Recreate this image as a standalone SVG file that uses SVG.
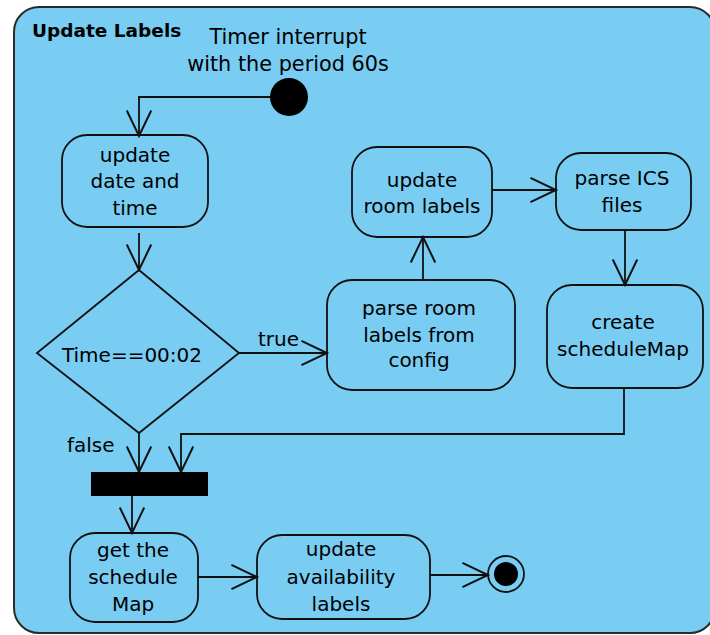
<svg xmlns="http://www.w3.org/2000/svg" width="710" height="635" viewBox="0 0 710 635">
  <defs>
    <marker id="open" markerUnits="userSpaceOnUse" markerWidth="30" markerHeight="30" viewBox="-25 -13 27 26" refX="0" refY="0" orient="auto" overflow="visible">
      <path d="M -23 -11 L 0 0 L -23 11" fill="none" stroke="#111" stroke-width="1.8"/>
    </marker>
  </defs>
  <style>
    .frame { fill: #79cdf3; stroke: #2a2a2a; stroke-width: 2; }
    .action { fill: none; stroke: #111; stroke-width: 1.8; }
    .edge { fill: none; stroke: #111; stroke-width: 1.8; marker-end: url(#open); }
    text { font-family: "DejaVu Sans", "Liberation Sans", sans-serif; font-size: 20px; fill: #000; }
    .c { text-anchor: middle; }
    .note { font-size: 20.8px; }
    .title { font-weight: bold; font-size: 18.5px; }
  </style>

  <rect width="710" height="635" fill="#ffffff"/>

  <!-- activity frame -->
  <g id="frame">
    <rect class="frame" x="14" y="7" width="701" height="626" rx="25" ry="25"/>
    <text class="title" x="32" y="37">Update Labels</text>
  </g>

  <!-- initial node with its note -->
  <g id="start">
    <text class="c note" x="288" y="44">Timer interrupt</text>
    <text class="c note" x="288" y="71">with the period 60s</text>
    <circle cx="289" cy="97" r="19" fill="#000"/>
  </g>

  <g id="update-date-time">
    <rect class="action" x="62" y="135" width="146" height="92" rx="25"/>
    <text class="c" x="135" y="162">update</text>
    <text class="c" x="135" y="188">date and</text>
    <text class="c" x="135" y="215">time</text>
  </g>

  <g id="decision">
    <polygon class="action" points="139,270 239,353 139,433 37,353"/>
    <text class="c" x="132" y="362">Time==00:02</text>
  </g>

  <g id="parse-room-labels">
    <rect class="action" x="327" y="280" width="188" height="110" rx="25"/>
    <text class="c" x="419" y="315">parse room</text>
    <text class="c" x="419" y="342">labels from</text>
    <text class="c" x="419" y="367">config</text>
  </g>

  <g id="update-room-labels">
    <rect class="action" x="352" y="147" width="140" height="90" rx="25"/>
    <text class="c" x="422" y="187">update</text>
    <text class="c" x="422" y="213">room labels</text>
  </g>

  <g id="parse-ics">
    <rect class="action" x="556" y="153" width="135" height="77" rx="25"/>
    <text class="c" x="622" y="185">parse ICS</text>
    <text class="c" x="622" y="212">files</text>
  </g>

  <g id="create-schedule-map">
    <rect class="action" x="547" y="285" width="156" height="103" rx="25"/>
    <text class="c" x="623" y="329">create</text>
    <text class="c" x="623" y="356">scheduleMap</text>
  </g>

  <g id="join">
    <rect x="91" y="472" width="117" height="24" fill="#000"/>
  </g>

  <g id="get-schedule-map">
    <rect class="action" x="70" y="533" width="128" height="89" rx="25"/>
    <text class="c" x="133" y="557">get the</text>
    <text class="c" x="133" y="584">schedule</text>
    <text class="c" x="133" y="611">Map</text>
  </g>

  <g id="update-availability">
    <rect class="action" x="257" y="535" width="173" height="84" rx="25"/>
    <text class="c" x="341" y="556">update</text>
    <text class="c" x="341" y="584">availability</text>
    <text class="c" x="341" y="611">labels</text>
  </g>

  <g id="end">
    <circle cx="506" cy="574" r="18" fill="none" stroke="#111" stroke-width="1.8"/>
    <circle cx="506" cy="574" r="12" fill="#000"/>
  </g>

  <!-- control flows -->
  <g id="connectors">
    <path class="edge" d="M 270 97 H 139 V 136"/>
    <path class="edge" d="M 139 233 V 270"/>
    <path class="edge" d="M 239 353 H 327"/>
    <path class="edge" d="M 423 280 V 237"/>
    <path class="edge" d="M 492 190 H 556"/>
    <path class="edge" d="M 625 230 V 285"/>
    <path class="edge" d="M 624 388 V 434 H 181 V 472"/>
    <path class="edge" d="M 139 433 V 472"/>
    <path class="edge" d="M 132 496 V 533"/>
    <path class="edge" d="M 198 577 H 257"/>
    <path class="edge" d="M 430 575 H 488"/>
    <text x="258" y="346">true</text>
    <text x="67" y="452">false</text>
  </g>
</svg>
